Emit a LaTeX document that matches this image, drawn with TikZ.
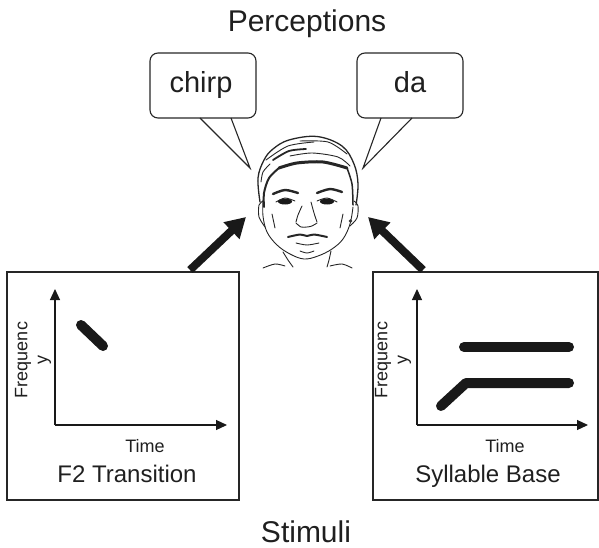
\documentclass[tikz,border=0pt]{standalone}
\usepackage{fontspec}
\setmainfont{Liberation Sans}
\usetikzlibrary{arrows.meta}
\begin{document}
\begin{tikzpicture}[x=1pt,y=-1pt,
  frame/.style={draw=black!85, line width=1.1pt, inner sep=0pt},
  bubble/.style={draw=black!85, line width=1.1pt, rounded corners=8pt,
    minimum width=106pt, minimum height=65pt, inner sep=0pt},
  tail/.style={draw=black!85, line width=1.1pt, line join=miter},
  axis/.style={black!90, line width=1.2pt, -{Triangle[length=11pt,width=10pt]}},
  trace/.style={black!90, line width=10pt, line cap=round, line join=round},
  bigarrow/.style={black!90, line width=8pt, -{Triangle[length=20pt,width=22pt]}},
  title/.style={anchor=base, font=\fontsize{30}{34}\selectfont, text=black!88},
  saying/.style={anchor=base, font=\fontsize{29}{32}\selectfont, text=black!88},
  caption/.style={anchor=base, font=\fontsize{24}{28}\selectfont, text=black!88},
  axislabel/.style={font=\fontsize{18}{20}\selectfont, text=black!88},
  sketch/.style={black!85, line width=0.9pt, line cap=round, line join=round},
]
\useasboundingbox (0,0) rectangle (599,548);

% headings
\node[title] (perc) at (307,32) {Perceptions};
\node[title] (stim) at (306,542) {Stimuli};

% speech bubbles
\node[bubble] (b1) at (203,85.5) {};
\node[bubble] (b2) at (410,85.5) {};
\node[saying] (chirp) at (201,93) {chirp};
\node[saying] (da) at (410,93) {da};
\coordinate (t1a) at (200,118);
\coordinate (t1b) at (231,118);
\coordinate (t1tip) at (250,168);
\coordinate (t2a) at (381,118);
\coordinate (t2b) at (412,118);
\coordinate (t2tip) at (363,168);
\fill[white] ([yshift=-1.5pt]t1a) -- (t1tip) -- ([yshift=-1.5pt]t1b) -- cycle;
\fill[white] ([yshift=-1.5pt]t2a) -- (t2tip) -- ([yshift=-1.5pt]t2b) -- cycle;
\draw[tail] (t1a) -- (t1tip) -- (t1b);
\draw[tail] (t2a) -- (t2tip) -- (t2b);

% listener's head
\begin{scope}[sketch]
  % outer hair
  \draw[line width=1.3pt] plot[smooth, tension=0.6] coordinates
    {(260,202) (258,178) (264,160) (273,149) (289,140) (317,136.5) (342,146) (354,164) (358,184) (356,205)};
  % hair strokes
  \draw plot[smooth] coordinates {(266,160) (288,146) (314,142)};
  \draw[line width=1.8pt] plot[smooth] coordinates {(273,160) (289,151) (306,149)};
  \draw plot[smooth] coordinates {(300,141) (328,142) (347,154)};
  \draw plot[smooth] coordinates {(290,156) (312,153) (338,157) (350,166)};
  % underside of the hair
  \draw[line width=3pt] plot[smooth] coordinates {(279,168) (297,163) (323,162) (347,168)};
  \draw[line width=2pt] plot[smooth] coordinates {(279,168) (269,178) (264,193) (264,207)};
  \draw[line width=1.5pt] plot[smooth] coordinates {(347,168) (352,184) (353,205)};
  \draw plot[smooth] coordinates {(261,182) (263,172) (270,164)};
  % face outline
  \draw plot[smooth, tension=0.6] coordinates
    {(263,200) (263,216) (267,232) (277,245) (290,254) (304,259) (318,256) (332,249) (343,239) (350,224) (353,207)};
  % ears
  \draw plot[smooth] coordinates {(263,201) (259,205) (259,217) (265,227)};
  \draw plot[smooth] coordinates {(354,201) (358,206) (357,218) (350,226)};
  \fill[black!80] (350.5,221) circle [radius=1.8pt];
  % eyebrows
  \draw[line width=2.4pt] plot[smooth] coordinates {(273,194) (285,190) (298,193)};
  \draw[line width=2.4pt] plot[smooth] coordinates {(317,193) (330,189) (342,192)};
  % eyes
  \fill[black!90] (285,201.5) ellipse [x radius=7pt, y radius=3pt];
  \fill[black!90] (327,201.5) ellipse [x radius=7pt, y radius=3pt];
  \draw plot[smooth] coordinates {(276,202) (285,198) (295,201)};
  \draw plot[smooth] coordinates {(317,201) (327,198) (337,202)};
  % nose
  \draw plot[smooth] coordinates {(311,202) (314,213) (317,222)};
  \draw plot[smooth] coordinates {(302,206) (298,215) (296,222)};
  \draw plot[smooth] coordinates {(296,223) (301,227) (307,227) (312,226) (317,223)};
  % mouth
  \draw[line width=2pt] plot[smooth] coordinates {(288,237) (300,234.5) (307,236) (314,234.5) (327,237)};
  \draw plot[smooth] coordinates {(296,243) (307,245) (319,243)};
  % chin and cheeks
  \draw plot[smooth] coordinates {(300,251) (307,253) (314,251)};
  \draw plot[smooth] coordinates {(272,214) (275,228)};
  \draw plot[smooth] coordinates {(343,214) (340,228)};
  % neck and collar
  \draw plot[smooth] coordinates {(283,252) (288,260) (293,267)};
  \draw plot[smooth] coordinates {(331,251) (329,260) (327,267)};
  \draw plot[smooth] coordinates {(263,268) (275,264) (285,266)};
  \draw plot[smooth] coordinates {(330,266) (342,264) (352,268)};
\end{scope}

% stimulus panels
\node[frame, minimum width=232pt, minimum height=228pt] (lbox) at (123,386) {};
\node[frame, minimum width=225pt, minimum height=228pt] (rbox) at (485.5,386) {};

% arrows from the stimuli to the listener
\coordinate (la0) at (190,270);
\coordinate (la1) at (246,217);
\coordinate (ra0) at (423,270);
\coordinate (ra1) at (368,217);
\draw[bigarrow] (la0) -- (la1);
\draw[bigarrow] (ra0) -- (ra1);

% left panel: F2 transition
\coordinate (lo) at (55,425);
\coordinate (ly) at (55,289);
\coordinate (lx) at (227,425);
\draw[axis] (lo) -- (ly);
\draw[axis] (lo) -- (lx);
\coordinate (f2a) at (81,325);
\coordinate (f2b) at (103,346);
\draw[trace] (f2a) -- (f2b);
\node[axislabel, rotate=90, align=center] (lfreq) at (33,360) {Frequenc\\y};
\node[axislabel, anchor=base] (ltime) at (145,452) {Time};
\node[caption] (lcap) at (127,482) {F2 Transition};

% right panel: syllable base
\coordinate (ro) at (417,425);
\coordinate (ry) at (417,289);
\coordinate (rx) at (588,425);
\draw[axis] (ro) -- (ry);
\draw[axis] (ro) -- (rx);
\coordinate (s1a) at (464,347);
\coordinate (s1b) at (569,347);
\coordinate (s2a) at (441,406);
\coordinate (s2k) at (466,383);
\coordinate (s2b) at (569,383);
\draw[trace] (s1a) -- (s1b);
\draw[trace] (s2a) -- (s2k) -- (s2b);
\node[axislabel, rotate=90, align=center] (rfreq) at (393,360) {Frequenc\\y};
\node[axislabel, anchor=base] (rtime) at (505,452) {Time};
\node[caption] (rcap) at (488,482) {Syllable Base};
\end{tikzpicture}
\end{document}
